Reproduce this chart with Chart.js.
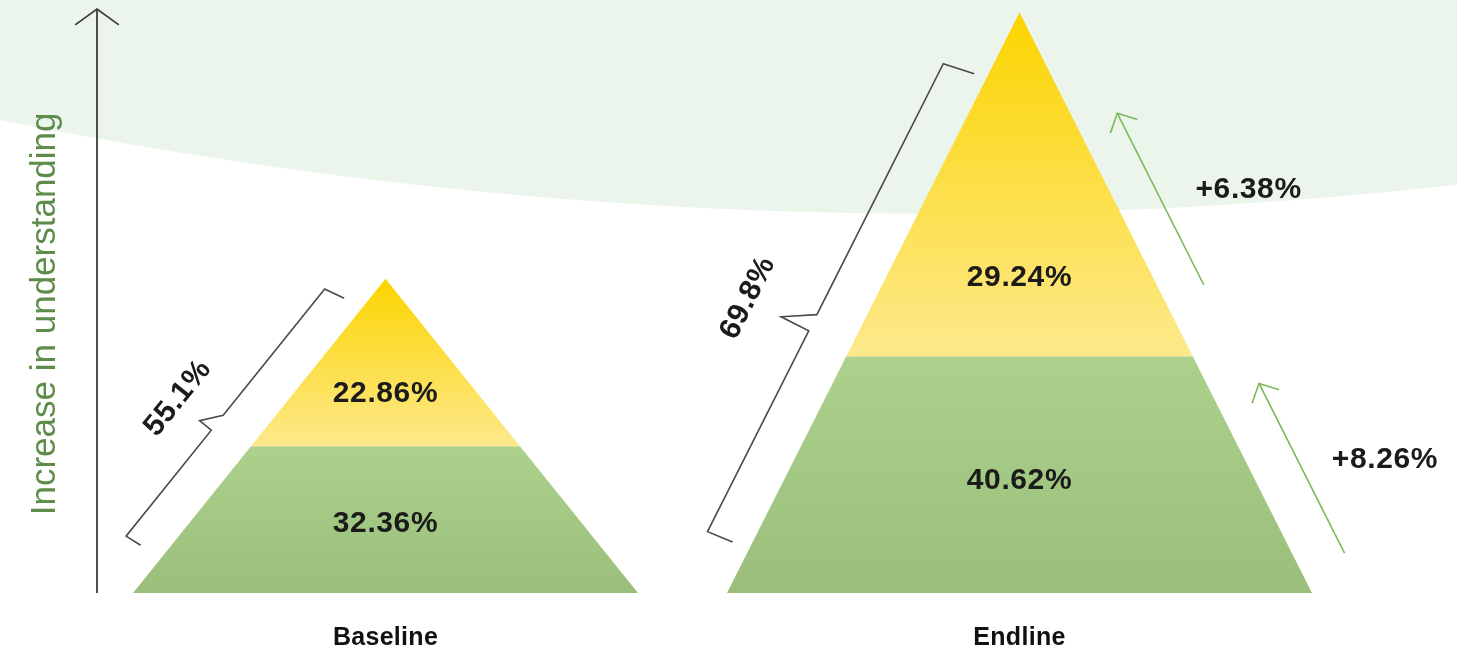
<!DOCTYPE html>
<html>
<head>
<meta charset="utf-8">
<script src="https://cdn.jsdelivr.net/npm/chart.js@4.4.1/dist/chart.umd.min.js"></script>
<style>
  html, body { margin: 0; padding: 0; background: #fff; }
  canvas { display: block; }
</style>
</head>
<body>
<canvas id="pyramidChart" width="1479" height="659"></canvas>
<script>
const rounds = ["Baseline", "Endline"];
const lowerTier = [32.36, 40.62];   // green band
const upperTier = [22.86, 29.24];   // yellow band
const combined = [55.1, 69.8];

// where each band tops out on the "understanding" axis (0 - 100)
const splitLevel = [25.1, 40.5];
const apexLevel = [53.8, 99.4];

// layout of the two pyramids (x in canvas units, label heights in axis units)
const shape = {
  centre: [385.5, 1019.5],
  halfBase: [252.5, 292.5],
  upperLabel: [34.1, 54.0],
  lowerLabel: [11.8, 19.2],
  nameLevel: -7.8
};

// brace along the left edge: distances along / away from the edge, in px
const braces = [
  { from: 40, to: 357, off: 41, notch: 176, rise: 19, depth: 15, hookTop: 21, hookBottom: 17, textAt: 180, textOff: 87 },
  { from: 46, to: 570, off: 45, notch: 271, rise: 18, depth: 31, hookTop: 32, hookBottom: 27, textAt: 273, textOff: 114 }
];

// change arrows along the right edge of the endline pyramid
const gainArrows = {
  lower: { from: 21, to: 211, off: 47, textAt: 86, textOff: 125 },
  upper: { from: 324, to: 516, off: 42, textAt: 389, textOff: 125 }
};

const backdrop = { right: 1457, leftEdge: 81.0, bendX: 728.5, bendY: 56.0, rightEdge: 69.9 };

const FONT = '"Liberation Sans", Arial, Helvetica, sans-serif';
const VALUE_FONT = "bold 30px " + FONT;

function verticalGradient(fromLevel, toLevel, lowColor, highColor) {
  return (context) => {
    const chart = context.chart;
    if (!chart.chartArea) return lowColor;
    const y = chart.scales.y;
    const g = chart.ctx.createLinearGradient(0, y.getPixelForValue(fromLevel), 0, y.getPixelForValue(toLevel));
    g.addColorStop(0, lowColor);
    g.addColorStop(1, highColor);
    return g;
  };
}

const datasets = [];
rounds.forEach((name, i) => {
  const cx = shape.centre[i];
  const hw = shape.halfBase[i];
  const top = apexLevel[i];
  const split = splitLevel[i];
  const hs = hw * (1 - split / top);
  datasets.push({
    label: name + " lower",
    data: [{ x: cx - hw, y: 0 }, { x: cx + hw, y: 0 }, { x: cx + hs, y: split }, { x: cx - hs, y: split }],
    backgroundColor: verticalGradient(0, split, "#9bbf7b", "#abd18c")
  });
  datasets.push({
    label: name + " upper",
    data: [{ x: cx - hs, y: split }, { x: cx + hs, y: split }, { x: cx, y: top }],
    backgroundColor: verticalGradient(split, top, "#fde98c", "#fcd400")
  });
});
datasets.forEach(d => Object.assign(d, {
  showLine: true,
  fill: "shape",
  borderColor: "transparent",
  borderWidth: 0,
  pointRadius: 0,
  tension: 0
}));

function edgeFrame(p0, p1, side) {
  const len = Math.hypot(p1.x - p0.x, p1.y - p0.y);
  const ux = (p1.x - p0.x) / len, uy = (p1.y - p0.y) / len;
  const nx = uy * side, ny = -ux * side;
  return {
    angle: Math.atan2(uy, ux),
    ux, uy,
    at: (u, n) => ({ x: p0.x + ux * u + nx * n, y: p0.y + uy * u + ny * n })
  };
}

function polyline(ctx, pts) {
  ctx.beginPath();
  ctx.moveTo(pts[0].x, pts[0].y);
  pts.slice(1).forEach(p => ctx.lineTo(p.x, p.y));
  ctx.stroke();
}

function chevron(ctx, tip, dx, dy, len, spread) {
  // dx, dy: direction the arrow points
  const bx = -dx, by = -dy;
  const wing = a => ({
    x: tip.x + len * (bx * Math.cos(a) - by * Math.sin(a)),
    y: tip.y + len * (bx * Math.sin(a) + by * Math.cos(a))
  });
  polyline(ctx, [wing(spread), tip, wing(-spread)]);
}

function text(ctx, str, x, y, font, color, angle, spacing) {
  ctx.save();
  ctx.translate(x, y);
  if (angle) ctx.rotate(angle);
  ctx.font = font;
  ctx.letterSpacing = spacing || "0px";
  ctx.fillStyle = color;
  ctx.textAlign = "center";
  ctx.textBaseline = "middle";
  ctx.fillText(str, 0, 0);
  ctx.restore();
}

const decor = {
  id: "decor",
  beforeDraw(chart) {
    const { ctx } = chart;
    const x = chart.scales.x, y = chart.scales.y;
    ctx.save();
    ctx.fillStyle = "#ecf5eb";
    ctx.beginPath();
    ctx.moveTo(x.getPixelForValue(0), 0);
    ctx.lineTo(x.getPixelForValue(backdrop.right), 0);
    ctx.lineTo(x.getPixelForValue(backdrop.right), y.getPixelForValue(backdrop.rightEdge));
    ctx.quadraticCurveTo(x.getPixelForValue(backdrop.bendX), y.getPixelForValue(backdrop.bendY),
      x.getPixelForValue(0), y.getPixelForValue(backdrop.leftEdge));
    ctx.closePath();
    ctx.fill();
    ctx.restore();
  },
  afterDatasetsDraw(chart) {
    const { ctx } = chart;
    const x = chart.scales.x, y = chart.scales.y;
    const px = (vx, vy) => ({ x: x.getPixelForValue(vx), y: y.getPixelForValue(vy) });

    ctx.save();
    ctx.lineJoin = "miter";
    ctx.lineCap = "butt";

    // vertical axis arrow and its title
    const axisBottom = px(97, 0), axisTop = px(97, y.max);
    ctx.strokeStyle = "#3c3c3c";
    ctx.lineWidth = 1.8;
    polyline(ctx, [axisBottom, axisTop]);
    chevron(ctx, axisTop, 0, -1, 27, 54 * Math.PI / 180);
    const title = px(45, 47.8);
    text(ctx, "Increase in understanding", title.x, title.y, "35px " + FONT, "#5e8c4a", -Math.PI / 2);

    rounds.forEach((name, i) => {
      const cx = shape.centre[i];
      const hw = shape.halfBase[i];

      // band values
      const up = px(cx, shape.upperLabel[i]);
      const lo = px(cx, shape.lowerLabel[i]);
      text(ctx, upperTier[i].toFixed(2) + "%", up.x, up.y, VALUE_FONT, "#1b1b1b", 0, "0.6px");
      text(ctx, lowerTier[i].toFixed(2) + "%", lo.x, lo.y, VALUE_FONT, "#1b1b1b", 0, "0.6px");

      // round name under the base
      const nm = px(cx, shape.nameLevel);
      text(ctx, name, nm.x, nm.y, "bold 25px " + FONT, "#111", 0, "0.3px");

      // brace along the left edge with the combined share
      const b = braces[i];
      const f = edgeFrame(px(cx - hw, 0), px(cx, apexLevel[i]), 1);
      ctx.strokeStyle = "#4a4a4a";
      ctx.lineWidth = 1.6;
      polyline(ctx, [
        f.at(b.to + 5, b.off - b.hookTop),
        f.at(b.to, b.off),
        f.at(b.notch + b.rise, b.off),
        f.at(b.notch, b.off + b.depth),
        f.at(b.notch, b.off),
        f.at(b.from, b.off),
        f.at(b.from + 2, b.off - b.hookBottom)
      ]);
      const lp = f.at(b.textAt, b.textOff);
      text(ctx, combined[i] + "%", lp.x, lp.y, VALUE_FONT, "#1b1b1b", f.angle, "0.6px");
    });

    // change arrows on the endline pyramid
    const last = rounds.length - 1;
    const cx = shape.centre[last], hw = shape.halfBase[last];
    const g = edgeFrame(px(cx + hw, 0), px(cx, apexLevel[last]), -1);
    const change = {
      lower: lowerTier[last] - lowerTier[0],
      upper: upperTier[last] - upperTier[0]
    };
    ctx.strokeStyle = "#79b95b";
    ctx.lineWidth = 1.6;
    Object.keys(gainArrows).forEach(k => {
      const a = gainArrows[k];
      const tail = g.at(a.from, a.off), tip = g.at(a.to, a.off);
      polyline(ctx, [tail, tip]);
      chevron(ctx, tip, g.ux, g.uy, 21, 46 * Math.PI / 180);
      const t = g.at(a.textAt, a.textOff);
      text(ctx, "+" + change[k].toFixed(2) + "%", t.x, t.y, VALUE_FONT, "#1b1b1b", 0, "0.6px");
    });

    ctx.restore();
  }
};

new Chart(document.getElementById("pyramidChart"), {
  type: "scatter",
  data: { datasets },
  options: {
    responsive: false,
    animation: false,
    events: [],
    layout: { padding: { top: 9, bottom: 66, left: 0, right: 0 } },
    scales: {
      x: { type: "linear", min: 0, max: 1479, display: false },
      y: { type: "linear", min: 0, max: 100, display: false }
    },
    plugins: {
      legend: { display: false },
      tooltip: { enabled: false }
    }
  },
  plugins: [decor]
});
</script>
</body>
</html>
